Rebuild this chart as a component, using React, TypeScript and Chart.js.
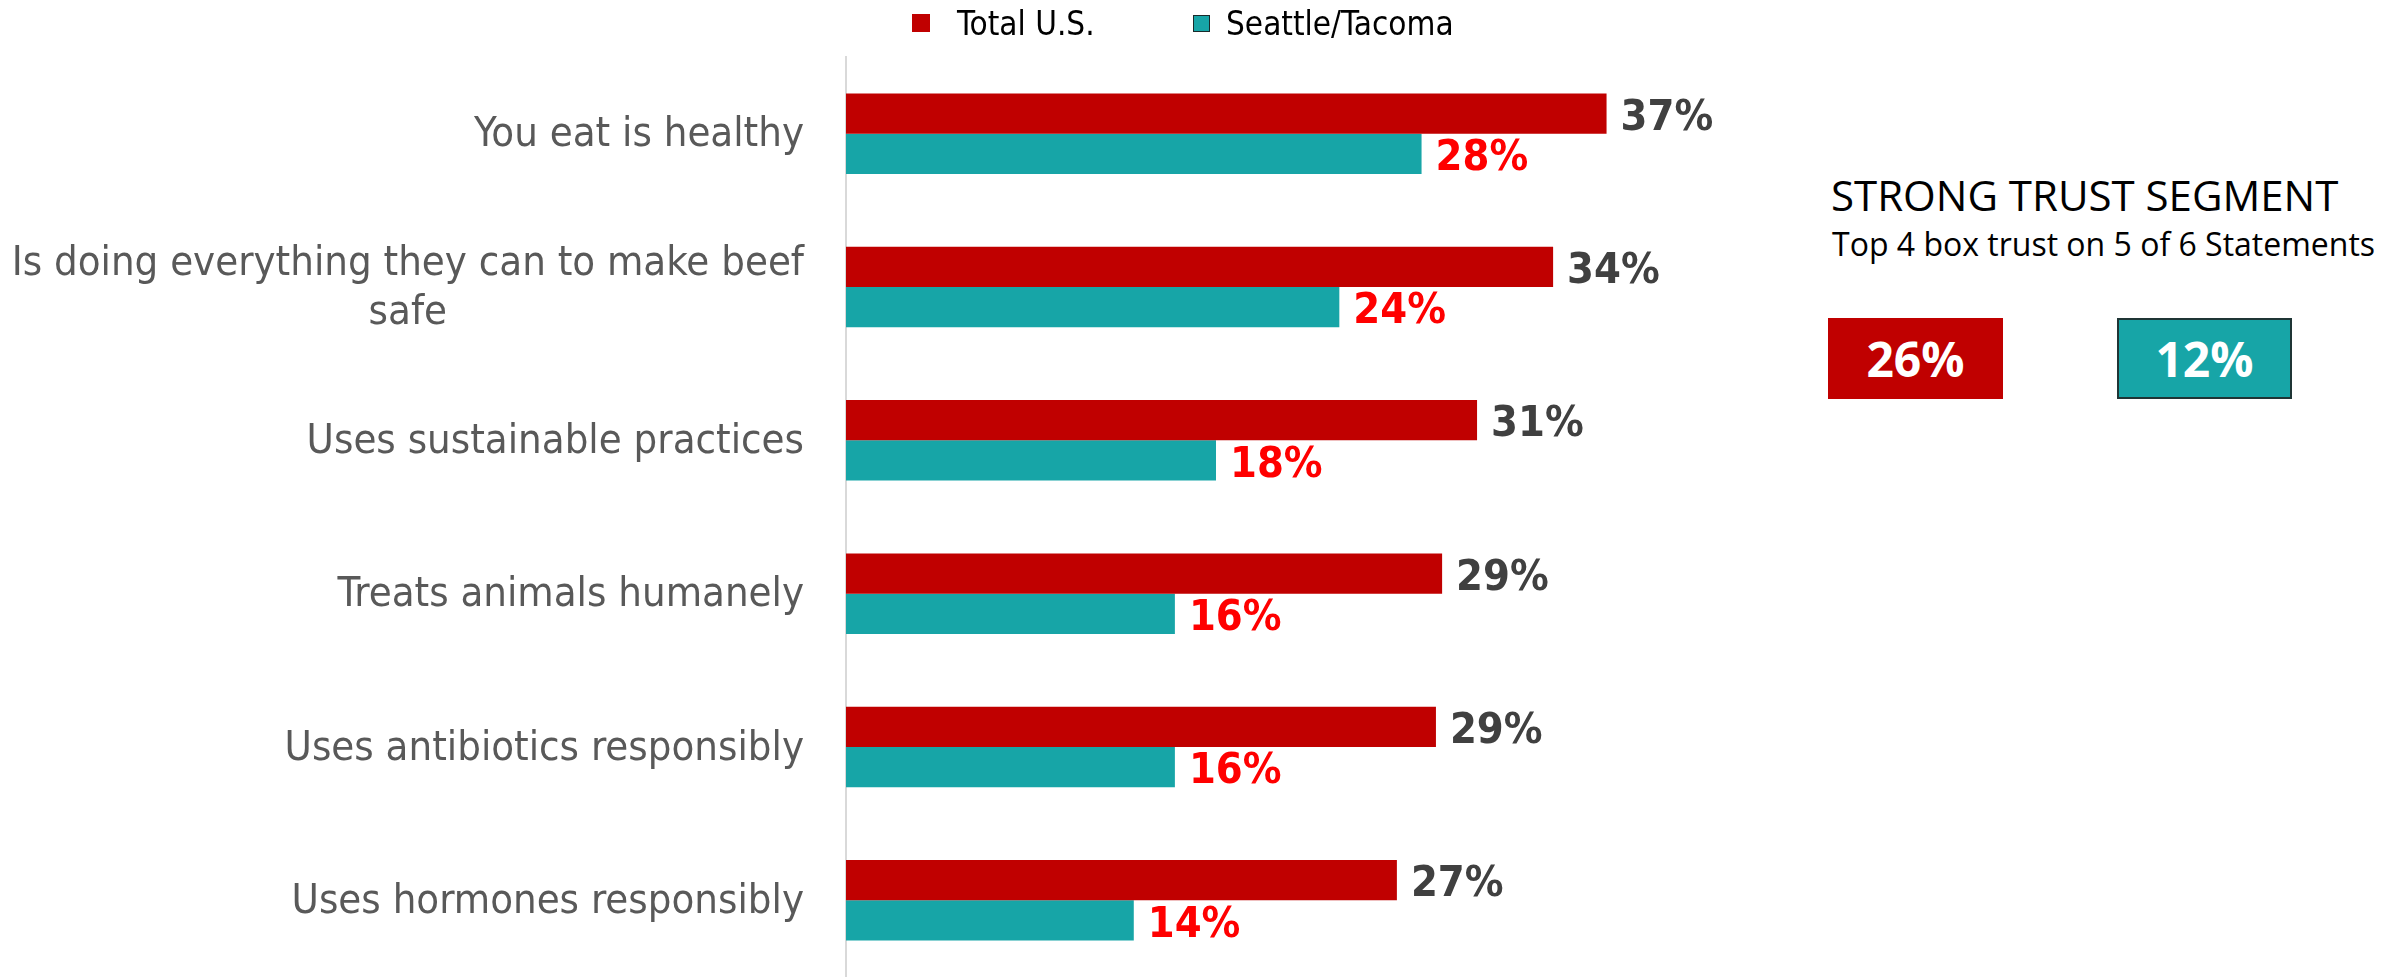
import React, { useEffect, useRef } from "react";
import { Chart, registerables } from "chart.js";

Chart.register(...registerables);

const categories: string[][] = [
  ["You eat is healthy"],
  ["Is doing everything they can to make beef", "safe"],
  ["Uses sustainable practices"],
  ["Treats animals humanely"],
  ["Uses antibiotics responsibly"],
  ["Uses hormones responsibly"],
];
const seriesNames = ["Total U.S.", "Seattle/Tacoma"];
const totalUS = [37.0, 34.4, 30.7, 29.0, 28.7, 26.8];
const seattle = [28.0, 24.0, 18.0, 16.0, 16.0, 14.0];
const segmentTitle = "STRONG TRUST SEGMENT";
const segmentSubtitle = "Top 4 box trust on 5 of 6 Statements";
const segmentValues = [26, 12];

const RED = "#C00000";
const TEAL = "#17A5A7";
const LABEL_FONT = "'DejaVu Sans Condensed', 'DejaVu Sans', sans-serif";

const yLabelPlugin = {
  id: "yLabels",
  afterDraw(chart: any) {
    const ctx = chart.ctx;
    const yScale = chart.scales.y;
    const rightX = chart.chartArea.left - 42;
    ctx.save();
    ctx.font = `41.5px ${LABEL_FONT}`;
    ctx.fillStyle = "#595959";
    ctx.textBaseline = "middle";
    ctx.textAlign = "center";
    const lh = 49;
    categories.forEach((lines, i) => {
      const y = yScale.getPixelForValue(i) + 2;
      const maxW = Math.max(...lines.map((l) => ctx.measureText(l).width));
      const cx = rightX - maxW / 2;
      const startY = y - ((lines.length - 1) * lh) / 2;
      lines.forEach((l, j) => ctx.fillText(l, cx, startY + j * lh));
    });
    ctx.restore();
  },
};

const valueLabelPlugin = {
  id: "valueLabels",
  afterDatasetsDraw(chart: any) {
    const ctx = chart.ctx;
    ctx.save();
    ctx.font = `bold 43px ${LABEL_FONT}`;
    ctx.textBaseline = "middle";
    ctx.textAlign = "left";
    chart.data.datasets.forEach((ds: any, di: number) => {
      const meta = chart.getDatasetMeta(di);
      ctx.fillStyle = di === 0 ? "#404040" : "#FF0000";
      meta.data.forEach((el: any, i: number) => {
        ctx.fillText(`${Math.round(ds.data[i])}%`, el.x + 14, el.y + 5);
      });
    });
    ctx.restore();
  },
};

export default function App() {
  const ref = useRef<HTMLCanvasElement>(null);
  useEffect(() => {
    if (!ref.current) return;
    const chart = new Chart(ref.current, {
      type: "bar",
      data: {
        labels: categories.map((c) => c.join(" ")),
        datasets: [
          { label: seriesNames[0], data: totalUS, backgroundColor: RED },
          { label: seriesNames[1], data: seattle, backgroundColor: TEAL },
        ],
      },
      options: {
        indexAxis: "y",
        responsive: false,
        animation: false,
        maintainAspectRatio: false,
        layout: { padding: { top: 57, bottom: 0, left: 0, right: 29 } },
        datasets: { bar: { barPercentage: 1, categoryPercentage: 0.525 } },
        plugins: { legend: { display: false }, tooltip: { enabled: false } },
        scales: {
          x: { display: false, min: 0, max: 45 },
          y: {
            ticks: { display: false },
            grid: { display: false },
            border: { display: true, color: "#D9D9D9", width: 2 },
            afterFit(scale: any) {
              scale.width = 846;
            },
          },
        },
      },
      plugins: [yLabelPlugin, valueLabelPlugin],
    });
    return () => chart.destroy();
  }, []);

  const legendColors = [RED, TEAL];
  const legendX = [912, 1193];
  const legendGap = [27, 16];
  return (
    <div style={{ position: "absolute", left: 0, top: 0, width: 2387, height: 977, background: "#fff", overflow: "hidden" }}>
      <canvas ref={ref} width={1800} height={977} style={{ position: "absolute", left: 0, top: 0 }} />
      {seriesNames.map((n, i) => (
        <div key={n} style={{ position: "absolute", left: legendX[i], top: 5, height: 36, display: "flex", alignItems: "center", fontFamily: LABEL_FONT, fontSize: 33, color: "#000", whiteSpace: "nowrap" }}>
          <span style={{ display: "inline-block", width: i === 1 ? 15 : 18, height: i === 1 ? 15 : 18, background: legendColors[i], border: i === 1 ? "1.5px solid #1a2a2a" : "none", marginRight: legendGap[i] }} />
          <span>{n}</span>
        </div>
      ))}
      <div style={{ position: "absolute", left: 1831, top: 169, fontFamily: "'Open Sans', sans-serif", fontSize: 42, color: "#000", whiteSpace: "nowrap", lineHeight: "52px" }}>{segmentTitle}</div>
      <div style={{ position: "absolute", left: 1832, top: 224, fontFamily: "'Open Sans', sans-serif", fontSize: 32, color: "#000", whiteSpace: "nowrap", lineHeight: "40px" }}>{segmentSubtitle}</div>
      {segmentValues.map((v, i) => (
        <div key={i} style={{ position: "absolute", left: i === 0 ? 1828 : 2117, top: 318, width: 175, height: 81, boxSizing: "border-box", background: legendColors[i], border: i === 1 ? "2px solid #1f3535" : "none", color: "#fff", fontFamily: "'Open Sans', sans-serif", fontWeight: 700, fontSize: 48, display: "flex", alignItems: "center", justifyContent: "center" }}>{`${v}%`}</div>
      ))}
    </div>
  );
}
